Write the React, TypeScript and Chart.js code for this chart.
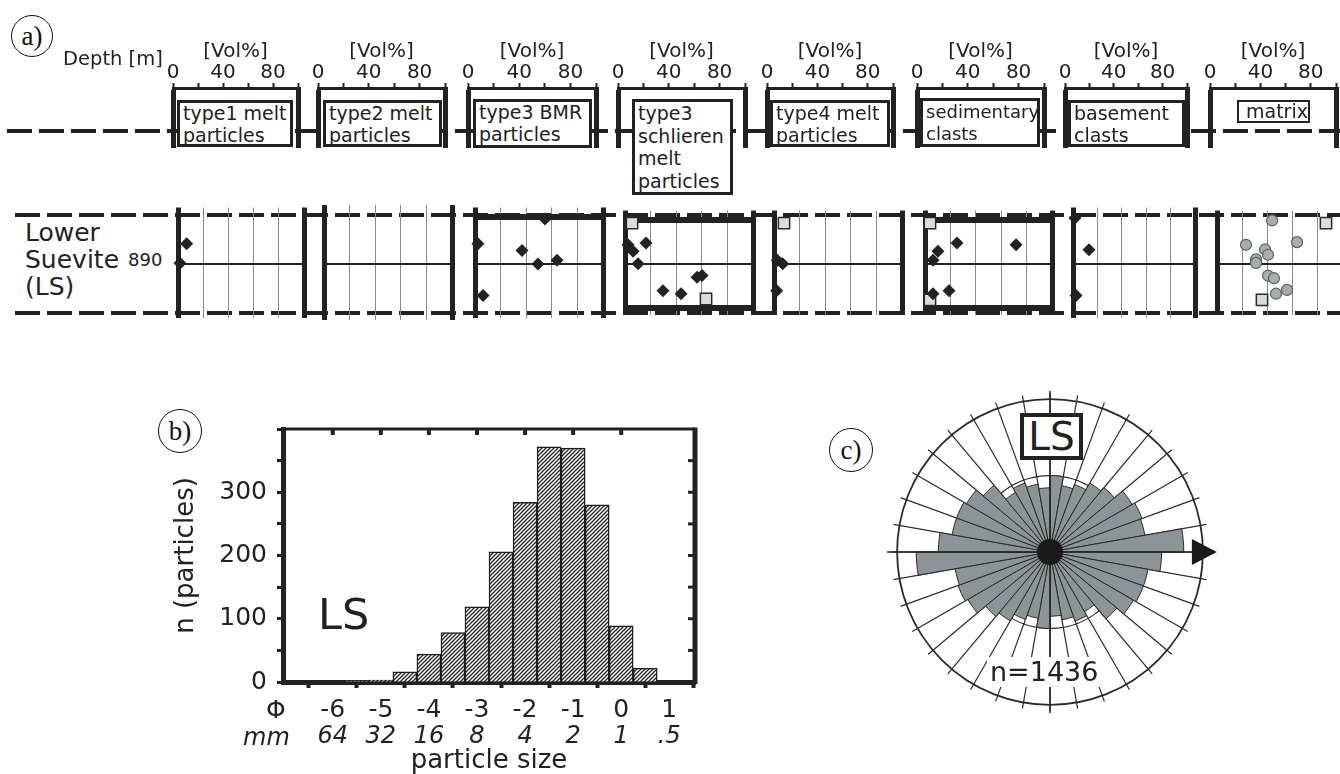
import React, { useEffect, useRef } from 'react';
import { Chart, registerables } from 'chart.js';

Chart.register(...registerables);
const FONT = "'DejaVu Sans', 'Liberation Sans', sans-serif";
Chart.defaults.font.family = FONT;
Chart.defaults.color = '#222';
const INK = '#222';

// ================= DATA : panel a (vol% vs depth) =================
const columnLabels = [
  'type1 melt\nparticles',
  'type2 melt\nparticles',
  'type3 BMR\nparticles',
  'type3\nschlieren\nmelt\nparticles',
  'type4 melt\nparticles',
  'sedimentary\nclasts',
  'basement\nclasts',
  'matrix',
];
const volTickLabels = [0, 40, 80];
const depthGridLevels = [888, 890, 892];
const depthLabel = '890';

// [vol%, depth m]
const type1Diamonds = [[6.9, 889.14], [1.6, 889.97]];
const type2Diamonds: number[][] = [];
const bmrDiamonds = [[2.3, 889.14], [36.7, 889.43], [49.2, 890.0], [64.1, 889.84], [6.3, 891.35], [54.7, 888.08]];
const schlierenDiamonds = [[2.3, 889.14], [16.4, 889.06], [6.3, 889.43], [10.2, 890.0], [56.3, 890.61], [60.2, 890.53], [29.7, 891.22], [43.8, 891.35]];
const schlierenSquares = [[5.5, 888.16], [63.3, 891.59]];
const type4Diamonds = [[2.6, 889.84], [6.8, 890.0], [2.1, 891.22]];
const type4Squares = [[7.8, 888.16]];
const sedDiamonds = [[25.2, 889.06], [10.2, 889.43], [6.3, 889.84], [71.7, 889.14], [6.3, 891.35], [18.9, 891.22]];
const sedSquares = [[3.9, 888.16], [3.9, 891.63]];
const basementDiamonds = [[1.6, 888.04], [13.1, 889.39], [2.5, 891.35]];
const matrixCircles = [[43.7, 888.04], [63.5, 889.02], [23.0, 889.14], [38.1, 889.35], [40.5, 889.59], [31.0, 889.8], [31.0, 889.96], [40.5, 890.53], [45.2, 890.65], [46.8, 891.35], [55.6, 891.18]];
const matrixSquares = [[35.7, 891.63], [86.5, 888.16]];

const columnDiamonds = [type1Diamonds, type2Diamonds, bmrDiamonds, schlierenDiamonds, type4Diamonds, sedDiamonds, basementDiamonds, []];
const columnSquares = [[], [], [], schlierenSquares, type4Squares, sedSquares, [], matrixSquares];
const columnCircles = [[], [], [], [], [], [], [], matrixCircles];
const thickTop = [false, false, true, true, false, true, false, false];
const thickBottom = [false, false, false, true, false, true, false, false];

// ================= DATA : panel b (histogram) =================
const phiBinCenters = [-5.5, -5.0, -4.5, -4.0, -3.5, -3.0, -2.5, -2.0, -1.5, -1.0, -0.5, 0.0, 0.5];
const particleCounts = [2, 3, 16, 44, 78, 119, 206, 284, 372, 370, 280, 89, 22];
const phiTicks = [-6, -5, -4, -3, -2, -1, 0, 1];
const mmTickLabels = ['64', '32', '16', '8', '4', '2', '1', '.5'];
const countTickLabels = [0, 100, 200, 300];
const histTopTicks = [-6, -5, -4, -3, -2, -1, 0];

// ================= DATA : panel c (rose) =================
const roseSectorLabels = [
  '0', '10', '20', '30', '40', '50', '60', '70', '80', '90', '100', '110', '120', '130', '140', '150', '160', '170',
  '180', '190', '200', '210', '220', '230', '240', '250', '260', '270', '280', '290', '300', '310', '320', '330', '340', '350',
];
const roseRadii = [
  0.50, 0.44, 0.47, 0.52, 0.55, 0.62, 0.64, 0.63, 0.875, 0.73, 0.65, 0.65, 0.63, 0.57, 0.45, 0.48, 0.45, 0.42,
  0.50, 0.44, 0.47, 0.52, 0.55, 0.62, 0.64, 0.63, 0.875, 0.73, 0.65, 0.65, 0.63, 0.57, 0.45, 0.48, 0.45, 0.42,
];
const roseRings = [0, 0.5, 1];

// ================= LAYOUT =================
const topX0 = [173, 318, 468, 618, 767, 917, 1065, 1210];
const topX100 = [298, 445, 596, 745, 893, 1044, 1187, 1336];
const lowX0 = [178, 324, 475, 625, 774, 925, 1073, 1217];
const lowX100 = [304, 452, 603, 753, 902, 1052, 1195, 1343];
const labelBoxes = [
  [177, 100, 116, 47],
  [323, 100, 119, 47],
  [473, 99, 119, 49],
  [632, 99, 101, 96],
  [770, 100, 120, 47],
  [920, 98, 120, 49],
  [1068, 100, 117, 47],
  [1237, 100, 73, 23],
];
const TOP_PAD = 20;
const LOW_PADX = 10;
const LOW_PADY = 4;
const DEPTH_TOP = 887.59;
const DEPTH_BOTTOM = 892.29;

const pts = (a: number[][]) => a.map(([x, y]) => ({ x, y }));

function ChartBox({ make, left, top, width, height }: any) {
  const ref = useRef<HTMLCanvasElement>(null);
  useEffect(() => {
    const chart = new Chart(ref.current as HTMLCanvasElement, make());
    return () => chart.destroy();
  }, []);
  return (
    <canvas
      ref={ref}
      width={width}
      height={height}
      style={{ position: 'absolute', left, top, width, height, display: 'block' }}
    />
  );
}

const isEdge = (c: any) => c && c.tick && (c.tick.value === 0 || c.tick.value === 100);

function topAxisChart(): any {
  return {
    type: 'scatter',
    data: { datasets: [{ data: [] }] },
    options: {
      animation: false,
      responsive: false,
      events: [],
      layout: { padding: { left: TOP_PAD, right: TOP_PAD, top: 0, bottom: 0 } },
      plugins: { legend: { display: false }, tooltip: { enabled: false } },
      scales: {
        x: {
          type: 'linear',
          position: 'top',
          min: 0,
          max: 100,
          ticks: {
            stepSize: 20,
            autoSkip: false,
            maxRotation: 0,
            padding: 0,
            color: INK,
            font: { size: 20, lineHeight: 1 },
            callback: (v: any) => (volTickLabels.includes(Number(v)) ? String(v) : ''),
          },
          grid: {
            drawOnChartArea: true,
            drawTicks: true,
            tickLength: 5,
            tickWidth: 2,
            tickColor: INK,
            color: (c: any) => (isEdge(c) ? INK : 'rgba(0,0,0,0)'),
            lineWidth: (c: any) => (isEdge(c) ? 5 : 1),
          },
          border: { display: true, color: INK, width: 3 },
          title: {
            display: true,
            text: '[Vol%]',
            color: INK,
            font: { size: 20, lineHeight: 1.2 },
            padding: { top: 4, bottom: 0 },
          },
          afterFit: (s: any) => {
            s.height = 52;
          },
        },
        y: { display: false, min: 0, max: 1 },
      },
    },
  };
}

function lowerChart(i: number): any {
  return {
    type: 'scatter',
    data: {
      datasets: [
        { data: pts(columnDiamonds[i]), pointStyle: 'rectRot', pointRadius: 6.5, backgroundColor: INK, borderColor: INK, borderWidth: 0, clip: false },
        { data: pts(columnSquares[i]), pointStyle: 'rect', pointRadius: 8, backgroundColor: '#d9dcde', borderColor: '#2b2b2b', borderWidth: 1.5, clip: false },
        { data: pts(columnCircles[i]), pointStyle: 'circle', pointRadius: 5.5, backgroundColor: '#a7acaf', borderColor: '#5b6064', borderWidth: 1.2, clip: false },
      ],
    },
    options: {
      animation: false,
      responsive: false,
      events: [],
      layout: { padding: { left: LOW_PADX, right: LOW_PADX, top: LOW_PADY, bottom: LOW_PADY } },
      plugins: { legend: { display: false }, tooltip: { enabled: false } },
      scales: {
        x: {
          type: 'linear',
          min: 0,
          max: 100,
          ticks: { display: false, stepSize: 20 },
          border: { display: false },
          grid: {
            drawTicks: false,
            color: (c: any) => (isEdge(c) ? INK : '#8a8a8a'),
            lineWidth: (c: any) => (isEdge(c) ? 5 : 1),
          },
          afterFit: (s: any) => {
            s.height = 0;
          },
        },
        y: {
          type: 'linear',
          reverse: true,
          min: DEPTH_TOP,
          max: DEPTH_BOTTOM,
          ticks: { display: false },
          border: { display: false },
          afterBuildTicks: (s: any) => {
            s.ticks = depthGridLevels.map((v) => ({ value: v }));
          },
          grid: {
            drawTicks: false,
            color: (c: any) => {
              const v = c.tick && c.tick.value;
              if (v === 890) return INK;
              if (v === 888 && thickTop[i]) return INK;
              if (v === 892 && thickBottom[i]) return INK;
              return 'rgba(0,0,0,0)';
            },
            lineWidth: (c: any) => (c.tick && c.tick.value === 890 ? 2 : 6),
          },
          afterFit: (s: any) => {
            s.width = 0;
          },
        },
      },
    },
  };
}

function hatch(): any {
  const c = document.createElement('canvas');
  const s = 4;
  c.width = s;
  c.height = s;
  const g = c.getContext('2d');
  if (!g) return '#999';
  g.fillStyle = '#fff';
  g.fillRect(0, 0, s, s);
  g.strokeStyle = '#262626';
  g.lineWidth = 1.3;
  g.beginPath();
  g.moveTo(-1, s + 1);
  g.lineTo(s + 1, -1);
  g.moveTo(-1, 1);
  g.lineTo(1, -1);
  g.moveTo(s - 1, s + 1);
  g.lineTo(s + 1, s - 1);
  g.stroke();
  return g.createPattern(c, 'repeat') || '#999';
}

const histFrame = {
  id: 'histFrame',
  afterDraw(chart: any) {
    const { ctx, chartArea: a, scales } = chart;
    const x = scales.x;
    const y = scales.y;
    ctx.save();
    ctx.strokeStyle = INK;
    ctx.lineWidth = 3;
    ctx.beginPath();
    ctx.moveTo(a.left - 2, a.top);
    ctx.lineTo(a.right, a.top);
    ctx.stroke();
    ctx.lineWidth = 5;
    ctx.beginPath();
    ctx.moveTo(a.right, a.top - 1.5);
    ctx.lineTo(a.right, a.bottom + 2);
    ctx.stroke();
    ctx.lineWidth = 4;
    histTopTicks.forEach((v) => {
      const px = x.getPixelForValue(v);
      ctx.beginPath();
      ctx.moveTo(px, a.top);
      ctx.lineTo(px, a.top + 6);
      ctx.stroke();
    });
    ctx.lineWidth = 3;
    y.ticks.forEach((t: any) => {
      if (t.value <= 0 || t.value >= 400) return;
      const py = y.getPixelForValue(t.value);
      ctx.beginPath();
      ctx.moveTo(a.right - 7, py);
      ctx.lineTo(a.right, py);
      ctx.stroke();
    });
    ctx.restore();
  },
};

function histChart(): any {
  return {
    type: 'bar',
    data: {
      datasets: [
        {
          data: phiBinCenters.map((x, i) => ({ x, y: particleCounts[i] })),
          backgroundColor: hatch(),
          borderColor: '#1d1d1b',
          borderWidth: 1.5,
          barPercentage: 1,
          categoryPercentage: 1,
        },
      ],
    },
    options: {
      animation: false,
      responsive: false,
      events: [],
      layout: { padding: { left: 17, right: 15, top: 29, bottom: 0 } },
      plugins: { legend: { display: false }, tooltip: { enabled: false } },
      scales: {
        x: {
          type: 'linear',
          min: -6.5,
          max: 1,
          afterBuildTicks: (s: any) => {
            s.ticks = phiTicks.map((v) => ({ value: v }));
          },
          ticks: { autoSkip: false, maxRotation: 0, padding: 10, color: INK, font: { size: 25, lineHeight: 1 }, callback: (v: any) => String(v) },
          grid: { drawOnChartArea: false, tickLength: 6, tickWidth: 4, tickColor: INK },
          border: { display: true, color: INK, width: 5 },
          afterFit: (s: any) => {
            s.height = 40;
          },
        },
        x2: {
          type: 'linear',
          position: 'bottom',
          min: -6.5,
          max: 1,
          afterBuildTicks: (s: any) => {
            s.ticks = phiTicks.map((v) => ({ value: v }));
          },
          ticks: {
            autoSkip: false,
            maxRotation: 0,
            padding: 3,
            color: INK,
            font: { size: 24, style: 'italic', lineHeight: 1 },
            callback: (_v: any, idx: number) => mmTickLabels[idx],
          },
          grid: { display: false, drawTicks: false },
          border: { display: false },
          title: { display: true, text: 'particle size', color: INK, font: { size: 26, lineHeight: 1 }, padding: { top: 0, bottom: 0 } },
          afterFit: (s: any) => {
            s.height = 52;
          },
        },
        y: {
          min: 0,
          max: 400,
          ticks: {
            stepSize: 50,
            autoSkip: false,
            padding: 10,
            color: INK,
            font: { size: 25 },
            callback: (v: any) => (countTickLabels.includes(Number(v)) ? String(v) : ''),
          },
          grid: { drawOnChartArea: false, tickLength: 6, tickWidth: 3, tickColor: INK },
          border: { display: true, color: INK, width: 5 },
          title: { display: true, text: 'n (particles)', color: INK, font: { size: 26, lineHeight: 1.2 }, padding: { top: 4, bottom: 0 } },
          afterFit: (s: any) => {
            s.width = 116;
          },
        },
      },
    },
    plugins: [histFrame],
  };
}

const roseDecor = {
  id: 'roseDecor',
  afterDatasetsDraw(chart: any) {
    const r = chart.scales.r;
    const ctx = chart.ctx;
    const cx = r.xCenter;
    const cy = r.yCenter;
    const R = r.getDistanceFromCenterForValue(1);
    ctx.save();
    ctx.strokeStyle = INK;
    ctx.fillStyle = '#1a1a1a';
    ctx.lineWidth = 1.5;
    ctx.beginPath();
    ctx.moveTo(cx, cy - R - 8);
    ctx.lineTo(cx, cy + R + 8);
    ctx.moveTo(cx - R - 10, cy);
    ctx.lineTo(cx + R, cy);
    ctx.stroke();
    ctx.beginPath();
    ctx.moveTo(cx + R - 11, cy - 13);
    ctx.lineTo(cx + R + 14, cy);
    ctx.lineTo(cx + R - 11, cy + 13);
    ctx.closePath();
    ctx.fill();
    ctx.beginPath();
    ctx.arc(cx, cy, 13, 0, Math.PI * 2);
    ctx.fill();
    ctx.restore();
  },
};

function roseChart(): any {
  return {
    type: 'polarArea',
    data: {
      labels: roseSectorLabels,
      datasets: [{ data: roseRadii, backgroundColor: '#8d9497', borderColor: '#2a2a2a', borderWidth: 1 }],
    },
    options: {
      animation: false,
      responsive: false,
      events: [],
      layout: { padding: 21 },
      plugins: { legend: { display: false }, tooltip: { enabled: false } },
      scales: {
        r: {
          min: 0,
          max: 1.04,
          startAngle: 0,
          ticks: { display: false },
          pointLabels: { display: false },
          angleLines: { display: true, color: '#2a2a2a', lineWidth: 1.2 },
          grid: { circular: true, color: '#2a2a2a', lineWidth: (c: any) => (c.tick && c.tick.value === 1 ? 1.8 : 1.2) },
          afterBuildTicks: (s: any) => {
            s.ticks = roseRings.map((v) => ({ value: v }));
          },
        },
      },
    },
    plugins: [roseDecor],
  };
}

function Txt({ left, top, size, children, style }: any) {
  return (
    <div style={{ position: 'absolute', left, top, fontFamily: FONT, fontSize: size, lineHeight: `${Math.round(size * 1.1)}px`, color: INK, whiteSpace: 'pre', ...style }}>
      {children}
    </div>
  );
}

function Circled({ cx, cy, r, text }: any) {
  return (
    <div
      style={{
        position: 'absolute',
        left: cx - r,
        top: cy - r,
        width: 2 * r,
        height: 2 * r,
        boxSizing: 'border-box',
        border: '1.5px solid #111',
        borderRadius: '50%',
        display: 'flex',
        alignItems: 'center',
        justifyContent: 'center',
        fontFamily: "'Liberation Serif', 'Times New Roman', serif",
        fontSize: 27,
        lineHeight: 1,
        color: '#111',
        background: '#fff',
      }}
    >
      {text}
    </div>
  );
}

function Dashed({ top, left, width, thick }: any) {
  return (
    <div
      style={{
        position: 'absolute',
        left,
        top: top - thick / 2,
        width,
        height: thick,
        background: `repeating-linear-gradient(90deg, ${INK} 0px, ${INK} 25px, transparent 25px, transparent 32px)`,
      }}
    />
  );
}

export default function App() {
  return (
    <div style={{ position: 'absolute', left: 0, top: 0, width: 1340, height: 774, overflow: 'hidden', background: '#fff' }}>
      {/* background dashed level lines */}
      <Dashed top={131} left={7} width={1333} thick={4} />
      <Dashed top={215} left={15} width={1325} thick={4} />
      <Dashed top={313} left={15} width={1325} thick={4} />

      {/* panel a: top axes */}
      {topX0.map((x0, i) => (
        <ChartBox key={'t' + i} make={topAxisChart} left={x0 - TOP_PAD} top={36} width={topX100[i] - x0 + 2 * TOP_PAD} height={112} />
      ))}
      {/* panel a: lower scatter strips */}
      {lowX0.map((x0, i) => (
        <ChartBox key={'l' + i} make={() => lowerChart(i)} left={x0 - LOW_PADX} top={205 - LOW_PADY} width={lowX100[i] - x0 + 2 * LOW_PADX} height={115 + 2 * LOW_PADY} />
      ))}
      {/* label boxes */}
      {labelBoxes.map(([l, t, w, h], i) => (
        <div
          key={'b' + i}
          style={{
            position: 'absolute',
            left: l,
            top: t,
            width: w,
            height: h,
            boxSizing: 'border-box',
            border: `${i === 7 ? 2 : 3}px solid ${INK}`,
            background: '#fff',
            fontFamily: FONT,
            fontSize: i === 5 ? 18 : 19,
            lineHeight: i === 3 ? '22.5px' : i === 7 ? '19px' : '21.5px',
            padding: i === 7 ? '0 0 0 7px' : '0 0 0 3px',
            color: INK,
            whiteSpace: 'pre',
            overflow: 'hidden',
          }}
        >
          {columnLabels[i]}
        </div>
      ))}

      <Circled cx={32} cy={36} r={21} text="a)" />
      <Txt left={63} top={48} size={19.5}>Depth [m]</Txt>
      <Txt left={25} top={219} size={25} style={{ lineHeight: '27px' }}>{'Lower\nSuevite\n(LS)'}</Txt>
      <Txt left={128} top={250} size={18}>{depthLabel}</Txt>

      {/* panel b */}
      <Circled cx={180} cy={431} r={22} text="b)" />
      <ChartBox make={histChart} left={150} top={400} width={560} height={374} />
      <Txt left={318} top={591} size={43}>LS</Txt>
      <Txt left={266} top={696} size={25}>Φ</Txt>
      <Txt left={243} top={724} size={24} style={{ fontStyle: 'italic' }}>mm</Txt>

      {/* panel c */}
      <Circled cx={851} cy={450} r={22} text="c)" />
      <ChartBox make={roseChart} left={870} top={372} width={360} height={360} />
      <div
        style={{
          position: 'absolute',
          left: 1020,
          top: 413,
          width: 63,
          height: 47,
          boxSizing: 'border-box',
          border: `4px solid ${INK}`,
          background: '#fff',
          fontFamily: FONT,
          fontSize: 39,
          lineHeight: '39px',
          textAlign: 'center',
          color: INK,
        }}
      >
        LS
      </div>
      <Txt left={987} top={657} size={27} style={{ background: '#fff', padding: '0 3px' }}>n=1436</Txt>
    </div>
  );
}
